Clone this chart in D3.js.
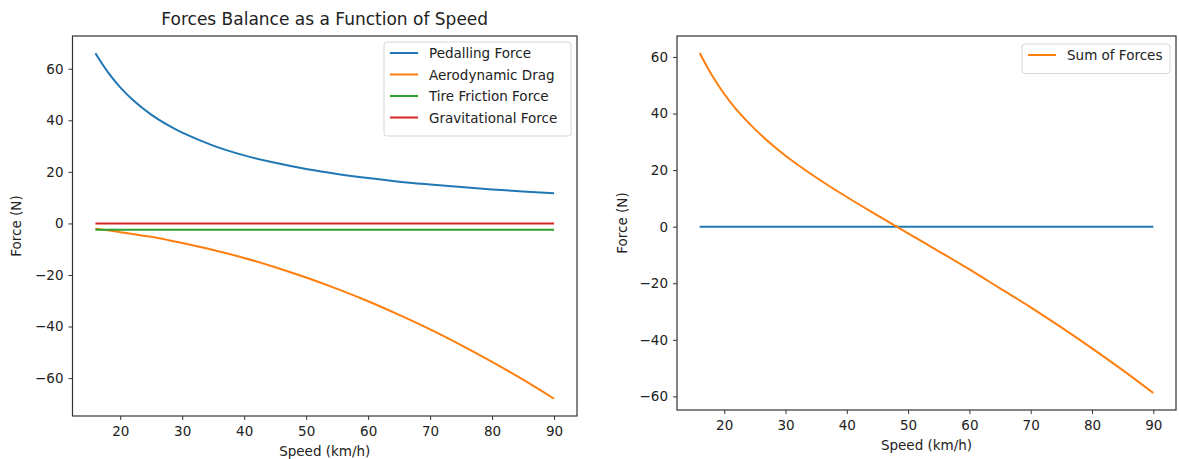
<!DOCTYPE html>
<html>
<head>
<meta charset="utf-8">
<script src="https://cdn.jsdelivr.net/npm/d3@7"></script>
<style>
  body { margin: 0; background: #fff; }
  svg { font-family: "DejaVu Sans", sans-serif; }
</style>
</head>
<body>
<svg id="chart" width="1179" height="459"></svg>
<script>
// speeds in km/h, values in N
const speeds = [16, 18, 20, 22, 25, 28, 30, 35, 40, 45, 50, 55, 60, 65, 70, 75, 80, 85, 90];
const pedalling = [66.0, 58.7, 52.8, 48.0, 42.2, 37.7, 35.2, 30.2, 26.4, 23.5, 21.1, 19.2, 17.6, 16.2, 15.1, 14.1, 13.2, 12.4, 11.7];
const aeroDrag = [-2.1, -2.7, -3.4, -4.1, -5.2, -6.6, -7.6, -10.3, -13.4, -17.0, -21.0, -25.4, -30.2, -35.5, -41.1, -47.2, -53.7, -60.6, -68.0];
const tireFriction = [-2.5, -2.5, -2.5, -2.5, -2.5, -2.5, -2.5, -2.5, -2.5, -2.5, -2.5, -2.5, -2.5, -2.5, -2.5, -2.5, -2.5, -2.5, -2.5];
const gravitational = [0, 0, 0, 0, 0, 0, 0, 0, 0, 0, 0, 0, 0, 0, 0, 0, 0, 0, 0];
const sumForces = [61.4, 53.5, 46.9, 41.4, 34.5, 28.6, 25.1, 17.4, 10.5, 4.0, -2.4, -8.7, -15.1, -21.8, -28.5, -35.6, -43.0, -50.7, -58.8];
const zeroLine = [0, 0, 0, 0, 0, 0, 0, 0, 0, 0, 0, 0, 0, 0, 0, 0, 0, 0, 0];

const xTicks = [20, 30, 40, 50, 60, 70, 80, 90];
const yTicks = [-60, -40, -20, 0, 20, 40, 60];

const fontSize = "13.5px";

const svg = d3.select( "#chart" );

function padded( lo, hi ) {
  const m = ( hi - lo ) * 0.05;
  return [ lo - m, hi + m ];
}

function drawPanel( box, series, opts ) {

  const g = svg.append( "g" );

  const allY = series.flatMap( s => s.values );
  const x = d3.scaleLinear()
    .domain( padded( d3.min( speeds ), d3.max( speeds ) ) )
    .range( [ box.left, box.right ] );
  const y = d3.scaleLinear()
    .domain( padded( d3.min( allY ), d3.max( allY ) ) )
    .range( [ box.bottom, box.top ] );

  const line = d3.line()
    .x( ( d, i ) => x( speeds[ i ] ) )
    .y( d => y( d ) )
    .curve( d3.curveCatmullRom );

  g.selectAll( "path.series" )
    .data( series )
    .enter().append( "path" )
      .attr( "class", "series" )
      .attr( "d", d => line( d.values ) )
      .attr( "fill", "none" )
      .attr( "stroke", d => d.color )
      .attr( "stroke-width", 2 );

  // frame
  g.append( "rect" )
    .attr( "x", box.left )
    .attr( "y", box.top )
    .attr( "width", box.right - box.left )
    .attr( "height", box.bottom - box.top )
    .attr( "fill", "none" )
    .attr( "stroke", "#333" )
    .attr( "stroke-width", 1.2 );

  const xAxis = g.append( "g" )
    .attr( "transform", `translate(0,${ box.bottom })` )
    .call( d3.axisBottom( x ).tickValues( xTicks ).tickSize( 4 ).tickPadding( 6 ) );
  const yAxis = g.append( "g" )
    .attr( "transform", `translate(${ box.left },0)` )
    .call( d3.axisLeft( y ).tickValues( yTicks ).tickSize( 4 ).tickPadding( 5 )
      .tickFormat( d => d < 0 ? "\u2212" + Math.abs( d ) : d ) );

  [ xAxis, yAxis ].forEach( a => {
    a.select( ".domain" ).remove();
    a.selectAll( "line" ).attr( "stroke", "#333" );
    a.selectAll( "text" )
      .attr( "fill", "#222" )
      .style( "font-family", "DejaVu Sans" )
      .style( "font-size", fontSize );
  } );

  g.append( "text" )
    .attr( "x", ( box.left + box.right ) / 2 )
    .attr( "y", box.bottom + 40 )
    .attr( "text-anchor", "middle" )
    .attr( "fill", "#222" )
    .style( "font-size", fontSize )
    .text( "Speed (km/h)" );

  g.append( "text" )
    .attr( "transform", `translate(${ box.left - opts.yLabelOffset },${ ( box.top + box.bottom ) / 2 }) rotate(-90)` )
    .attr( "text-anchor", "middle" )
    .attr( "fill", "#222" )
    .style( "font-size", fontSize )
    .text( "Force (N)" );

  if ( opts.title ) {
    g.append( "text" )
      .attr( "x", ( box.left + box.right ) / 2 )
      .attr( "y", box.top - 11 )
      .attr( "text-anchor", "middle" )
      .attr( "fill", "#222" )
      .style( "font-size", "17px" )
      .text( opts.title );
  }

  // legend
  const shown = series.filter( s => s.label );
  const lg = g.append( "g" );
  lg.append( "rect" )
    .attr( "x", opts.legend.x )
    .attr( "y", opts.legend.y )
    .attr( "width", opts.legend.w )
    .attr( "height", 8 + shown.length * 21.5 )
    .attr( "rx", 3 )
    .attr( "fill", "#fff" )
    .attr( "fill-opacity", 0.8 )
    .attr( "stroke", "#d6d6d6" );

  shown.forEach( ( s, i ) => {
    const cy = opts.legend.y + 11 + i * 21.5;
    lg.append( "line" )
      .attr( "x1", opts.legend.x + 6 )
      .attr( "x2", opts.legend.x + 34 )
      .attr( "y1", cy )
      .attr( "y2", cy )
      .attr( "stroke", s.color )
      .attr( "stroke-width", 2 );
    lg.append( "text" )
      .attr( "x", opts.legend.x + 45 )
      .attr( "y", cy + 5 )
      .attr( "fill", "#222" )
      .style( "font-size", fontSize )
      .text( s.label );
  } );
}

drawPanel(
  { left: 72.5, right: 577, top: 36, bottom: 416 },
  [
    { label: "Pedalling Force", values: pedalling, color: "#1f77b4" },
    { label: "Aerodynamic Drag", values: aeroDrag, color: "#ff7f0e" },
    { label: "Tire Friction Force", values: tireFriction, color: "#2ca02c" },
    { label: "Gravitational Force", values: gravitational, color: "#d62728" }
  ],
  { title: "Forces Balance as a Function of Speed", legend: { x: 384, y: 42, w: 187 }, yLabelOffset: 52 }
);

drawPanel(
  { left: 677, right: 1176, top: 36, bottom: 410 },
  [
    { label: null, values: zeroLine, color: "#1f77b4" },
    { label: "Sum of Forces", values: sumForces, color: "#ff7f0e" }
  ],
  { legend: { x: 1022, y: 44, w: 148 }, yLabelOffset: 50 }
);
</script>
</body>
</html>
